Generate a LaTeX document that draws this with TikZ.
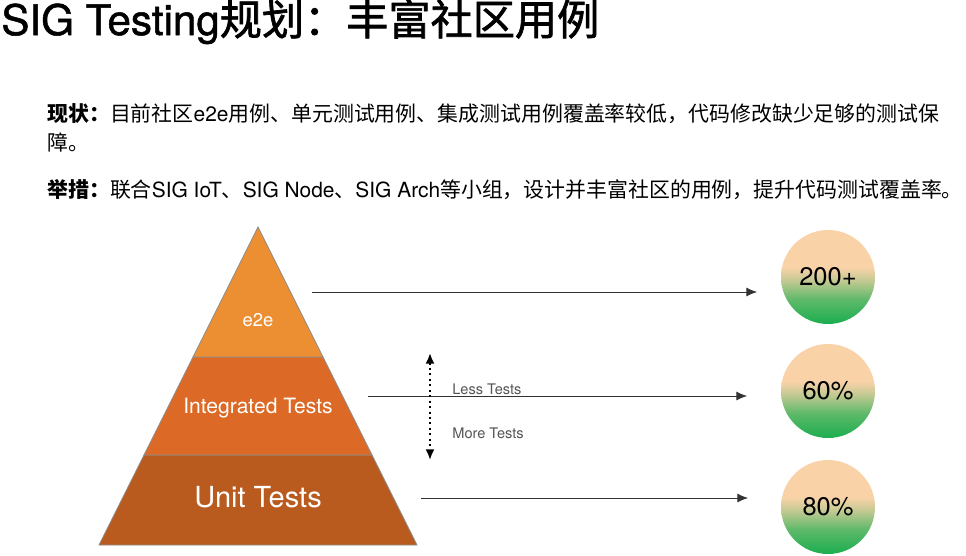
\documentclass[tikz,border=0pt]{standalone}
\usepackage{fontspec}
\setmainfont{TeX Gyre Heros}
\newfontfamily\cjk{Noto Sans CJK SC}
\newfontfamily\titlelat[FakeBold=1.2]{TeX Gyre Heros}
\newfontfamily\titlecjk[FakeBold=1.6]{Noto Sans CJK SC}
\usetikzlibrary{arrows.meta, positioning, shapes.geometric}

\definecolor{topOrange}{HTML}{EC8F33}
\definecolor{midOrange}{HTML}{DC6A26}
\definecolor{lowOrange}{HTML}{B95B1F}
\definecolor{pyrEdge}{HTML}{8C8C8C}
\definecolor{peach}{HTML}{F9D2A8}
\definecolor{leaf}{HTML}{1BAE4F}
\definecolor{labelgray}{HTML}{555555}
\colorlet{leafA}{leaf!70!peach}
\colorlet{leafB}{leaf!25!peach}
\pgfdeclareverticalshading{peachleaf}{100bp}{color(0bp)=(leaf); color(25bp)=(leaf); color(38bp)=(leafA); color(48bp)=(leafB); color(55bp)=(peach); color(100bp)=(peach)}

\begin{document}
\begin{tikzpicture}[
        x=0.02cm, y=-0.02cm,
        layer/.style={text=white, inner sep=0pt},
        score/.style={circle, minimum size=1.88cm, inner sep=0pt, shading=peachleaf, font=\fontsize{14.5}{16}\selectfont},
        arrow/.style={-{Latex[length=6pt, width=5pt]}, thin, black!80},
        hint/.style={anchor=west, inner sep=0pt, text=labelgray, font=\fontsize{8.3}{10}\selectfont}
    ]
        \useasboundingbox (0,0) rectangle (966,555);
        \fill[white] (0,0) rectangle (966,555);

        % --- Title and text ---
        \node[anchor=base west, inner sep=0pt, font=\fontsize{24}{28}\selectfont] (title) at (1,35)
            {{\titlelat SIG Testing}{\titlecjk 规划：丰富社区用例}};
        \node[anchor=base west, inner sep=0pt, align=left, font=\fontsize{11.9}{16.5}\selectfont] (now) at (47,150)
            {{\cjk\bfseries 现状：}{\cjk 目前社区}e2e{\cjk 用例、单元测试用例、集成测试用例覆盖率较低，代码修改缺少足够的测试保}\\{\cjk 障。}};
        \node[anchor=base west, inner sep=0pt, font=\fontsize{11.9}{16.5}\selectfont] (plan) at (47,197)
            {{\cjk\bfseries 举措：}{\cjk 联合}SIG IoT{\cjk 、}SIG Node{\cjk 、}SIG Arch{\cjk 等小组，设计并丰富社区的用例，提升代码测试覆盖率。}};

        % --- Pyramid (three layers) ---
        \filldraw[fill=lowOrange, draw=pyrEdge, thin] (144,455) -- (372,455) -- (417,545) -- (99,545) -- cycle;
        \filldraw[fill=midOrange, draw=pyrEdge, thin] (193,357) -- (323,357) -- (372,455) -- (144,455) -- cycle;
        \filldraw[fill=topOrange, draw=pyrEdge, thin] (258,227) -- (323,357) -- (193,357) -- cycle;
        \node[layer, font=\fontsize{10.5}{12}\selectfont] (e2e) at (258,320) {e2e};
        \node[layer, font=\fontsize{12}{14}\selectfont] (integ) at (258,408) {Integrated Tests};
        \node[layer, font=\fontsize{16.5}{19}\selectfont] (unit) at (258,497) {Unit Tests};

        % --- Result circles ---
        \node[score] (c1) at (828,277) {200+};
        \node[score] (c2) at (828,391) {60\%};
        \node[score] (c3) at (828,507) {80\%};

        % --- Arrows from layers to circles ---
        \coordinate (s1) at (312,292);
        \coordinate (t1) at (757,292);
        \coordinate (s2) at (368,396);
        \coordinate (t2) at (747,396);
        \coordinate (s3) at (421,498);
        \coordinate (t3) at (748,498);
        \draw[arrow] (s1) -- (t1);
        \draw[arrow] (s2) -- (t2);
        \draw[arrow] (s3) -- (t3);

        % --- Less / more tests ---
        \coordinate (up) at (430,353);
        \coordinate (down) at (430,460);
        \draw[{Latex[length=6pt, width=5pt]}-{Latex[length=6pt, width=5pt]}, dotted, line width=1.1pt] (up) -- (down);
        \node[hint] (less) at (452,389) {Less Tests};
        \node[hint] (more) at (452,433) {More Tests};

    \end{tikzpicture}
\end{document}
